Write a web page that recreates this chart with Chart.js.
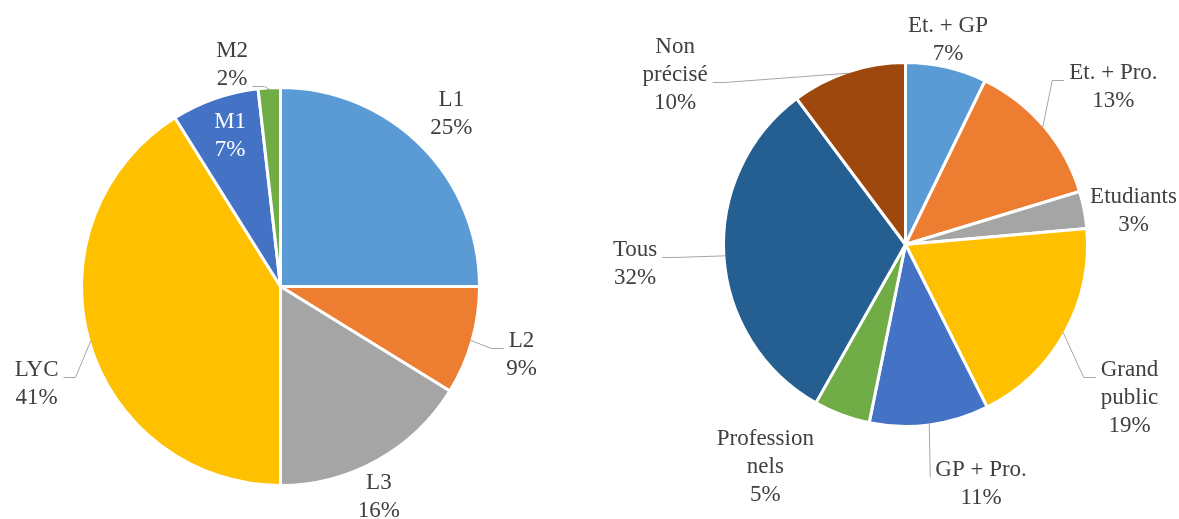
<!DOCTYPE html>
<html>
<head>
<meta charset="utf-8">
<title>Répartition des ressources</title>
<script src="https://cdn.jsdelivr.net/npm/chart.js@4.4.1/dist/chart.umd.min.js"></script>
<style>
  html, body { margin: 0; padding: 0; background: #fff; }
  #wrap { position: relative; width: 1179px; height: 519px; }
  canvas { position: absolute; top: 0; }
  #levelPie { left: 0; }
  #audiencePie { left: 590px; }
</style>
</head>
<body>
<div id="wrap">
  <canvas id="levelPie" width="590" height="519"></canvas>
  <canvas id="audiencePie" width="589" height="519"></canvas>
</div>
<script>
// left pie : niveaux
const levelLabels = ['L1', 'L2', 'L3', 'LYC', 'M1', 'M2'];
const levelValues = [25.0, 8.8, 16.2, 41.1, 7.1, 1.8];

// right pie : public visé
const audienceLabels = ['Et. + GP', 'Et. + Pro.', 'Etudiants', 'Grand public', 'GP + Pro.', 'Professionnels', 'Tous', 'Non précisé'];
const audienceValues = [7.2, 13.1, 3.3, 19.0, 10.6, 5.0, 31.6, 10.2];

const officeColors = ['#5B9BD5', '#ED7D31', '#A5A5A5', '#FFC000', '#4472C4', '#70AD47', '#255E91', '#9E480E'];

// how the long names are broken on the labels
const wrapped = {
  'Grand public': ['Grand', 'public'],
  'Professionnels': ['Profession', 'nels'],
  'Non précisé': ['Non', 'précisé'],
};

// label placement : [angle from top in degrees, distance in radii]
const levelLabelPos = [[44.8, 1.228], [105.8, 1.268], [154.9, 1.174], [248.3, 1.329], [341.5, 0.804], [347.7, 1.150]];
const levelLeaders = [null, { line: 0 }, null, { line: 0 }, null, { line: 1 }];
const levelTextColors = ['#404040', '#404040', '#404040', '#404040', '#FFFFFF', '#404040'];

const audienceLabelPos = [[11.7, 1.160], [52.8, 1.446], [81.6, 1.277], [124.4, 1.504], [162.5, 1.392], [212.2, 1.457], [265.9, 1.502], [306.4, 1.586]];
const audienceLeaders = [null, { line: 0 }, null, { line: 0 }, { line: 0, elbow: 0 }, null, { line: 0 }, { line: 1 }];

const LINE_H = 28;

// draws name + percentage next to each slice, with Excel-like leader lines
const pieLabels = {
  id: 'pieLabels',
  afterDatasetsDraw(chart, args, opts) {
    const ctx = chart.ctx;
    const meta = chart.getDatasetMeta(0);
    const data = chart.data.datasets[0].data;
    const total = data.reduce((a, b) => a + b, 0);
    ctx.save();
    ctx.font = '23px "Liberation Serif", "Times New Roman", serif';
    ctx.textAlign = 'center';
    ctx.textBaseline = 'middle';
    meta.data.forEach((arc, i) => {
      const { x, y, startAngle, endAngle, outerRadius } = arc.getProps(['x', 'y', 'startAngle', 'endAngle', 'outerRadius'], true);
      const r = outerRadius - 1.5;
      const [deg, dist] = opts.positions[i];
      const a = (deg - 90) * Math.PI / 180;
      const tx = x + Math.cos(a) * r * dist;
      const ty = y + Math.sin(a) * r * dist;
      const name = chart.data.labels[i];
      const lines = (wrapped[name] || [name]).concat(Math.round(data[i] / total * 100) + '%');
      const top = ty - (lines.length - 1) * LINE_H / 2;

      const leader = opts.leaders[i];
      if (leader) {
        const mid = (startAngle + endAngle) / 2;
        const px = x + Math.cos(mid) * r;
        const py = y + Math.sin(mid) * r;
        const w = ctx.measureText(lines[leader.line]).width;
        const side = tx > px ? -1 : 1;
        const ly = Math.round(top + leader.line * LINE_H + 7) + 0.5;
        const ex = tx + side * (w / 2 + 5);
        const kx = ex + side * (leader.elbow ?? 12);
        ctx.strokeStyle = '#A6A6A6';
        ctx.lineWidth = 1;
        ctx.beginPath();
        ctx.moveTo(px, py);
        ctx.lineTo(kx, ly);
        ctx.lineTo(ex, ly);
        ctx.stroke();
      }

      ctx.fillStyle = opts.colors ? opts.colors[i] : '#404040';
      lines.forEach((t, k) => ctx.fillText(t, tx, top + k * LINE_H));
    });
    ctx.restore();
  }
};

function makePie(id, labels, values, padding, labelOpts) {
  return new Chart(document.getElementById(id), {
    type: 'pie',
    data: {
      labels: labels,
      datasets: [{
        data: values,
        backgroundColor: officeColors.slice(0, values.length),
        borderColor: '#FFFFFF',
        borderWidth: 3,
        hoverOffset: 0,
        offset: 0,
      }],
    },
    options: {
      responsive: false,
      animation: false,
      layout: { padding: padding },
      plugins: {
        legend: { display: false },
        tooltip: { enabled: false },
        pieLabels: labelOpts,
      },
    },
    plugins: [pieLabels],
  });
}

makePie('levelPie', levelLabels, levelValues,
  { left: 80, top: 86, right: 109, bottom: 32 },
  { positions: levelLabelPos, leaders: levelLeaders, colors: levelTextColors });

makePie('audiencePie', audienceLabels, audienceValues,
  { left: 132, top: 61, right: 90, bottom: 91 },
  { positions: audienceLabelPos, leaders: audienceLeaders });
</script>
</body>
</html>
